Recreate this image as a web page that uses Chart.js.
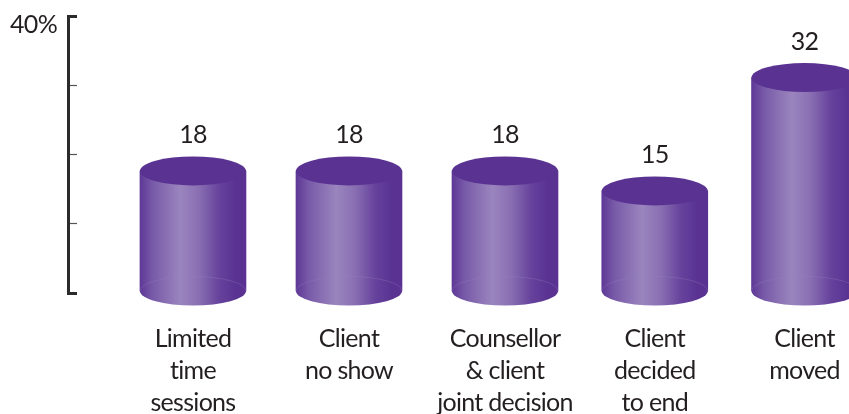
<!DOCTYPE html>
<html lang="en">
<head>
<meta charset="UTF-8">
<title>Reasons for ending counselling</title>
<script src="https://cdn.jsdelivr.net/npm/chart.js"></script>
<style>
html, body { margin: 0; padding: 0; background: #fff; overflow: hidden; }
#wrap { width: 849px; height: 414px; }
</style>
</head>
<body>
<div id="wrap"><canvas id="endChart" width="849" height="414"></canvas></div>

<script>
const categories = [
  ['Limited', 'time', 'sessions'],
  ['Client', 'no show'],
  ['Counsellor', '& client', 'joint decision'],
  ['Client', 'decided', 'to end'],
  ['Client', 'moved']
];
const percentages = [18, 18, 18, 15, 32];
const axisTicks = [0, 10, 20, 30, 40];
// slots on the x scale, the last two cylinders sit a bit closer together
const slots = [0, 1, 2, 2.96, 3.92];

const INK = '#231f20';
const FONT = 'Lato, sans-serif';
const BAR_W = 106;
const RY = 14.5;

function sideGradient(ctx, cx) {
  const g = ctx.createLinearGradient(cx - BAR_W / 2, 0, cx + BAR_W / 2, 0);
  g.addColorStop(0, '#5e3896');
  g.addColorStop(0.12, '#785aa8');
  g.addColorStop(0.38, '#9a85be');
  g.addColorStop(0.55, '#8a70b3');
  g.addColorStop(0.75, '#66429c');
  g.addColorStop(0.9, '#5a3392');
  g.addColorStop(1, '#5a3292');
  return g;
}

// caps and value labels around the library's bars
const cylinders = {
  id: 'cylinders',
  beforeDraw(chart) {
    // the original type is narrower than Lato
    chart.ctx.letterSpacing = '-0.7px';
  },
  beforeDatasetsDraw(chart) {
    const c = chart.ctx;
    chart.getDatasetMeta(0).data.forEach(bar => {
      c.save();
      c.fillStyle = sideGradient(c, bar.x);
      c.beginPath();
      c.ellipse(bar.x, bar.base, BAR_W / 2, RY, 0, 0, Math.PI * 2);
      c.fill();
      c.restore();
    });
  },
  afterDatasetsDraw(chart) {
    const c = chart.ctx;
    chart.getDatasetMeta(0).data.forEach((bar, i) => {
      c.save();
      // faint back rim of the base
      c.beginPath();
      c.ellipse(bar.x, bar.base, BAR_W / 2, RY, 0, Math.PI, Math.PI * 2);
      c.strokeStyle = 'rgba(150,130,190,0.3)';
      c.lineWidth = 1;
      c.stroke();
      c.fillStyle = '#5a3292';
      c.beginPath();
      c.ellipse(bar.x, bar.y, BAR_W / 2, RY, 0, 0, Math.PI * 2);
      c.fill();
      c.fillStyle = INK;
      c.font = '25px ' + FONT;
      c.textAlign = 'center';
      c.textBaseline = 'middle';
      c.fillText(String(percentages[i]), bar.x, bar.y - 36);
      c.restore();
    });
  }
};

new Chart(document.getElementById('endChart').getContext('2d'), {
  type: 'bar',
  data: {
    datasets: [{
      data: percentages.map((v, i) => ({ x: slots[i], y: v })),
      yAxisID: 'bars',
      barThickness: BAR_W,
      borderWidth: 0,
      backgroundColor(ctx) {
        const cx = ctx.parsed ? ctx.chart.scales.x.getPixelForValue(ctx.parsed.x) : NaN;
        return Number.isFinite(cx) ? sideGradient(ctx.chart.ctx, cx) : '#6a459e';
      }
    }]
  },
  options: {
    responsive: false,
    animation: false,
    layout: { padding: { top: 16, left: 0, right: 0, bottom: 0 } },
    plugins: { legend: { display: false }, tooltip: { enabled: false } },
    scales: {
      x: {
        type: 'linear',
        offset: false,
        min: -0.801,
        max: 4.205,
        border: { display: false },
        grid: { display: false, drawTicks: false, offset: false },
        afterBuildTicks(scale) { scale.ticks = slots.map(v => ({ value: v })); },
        afterFit(scale) {
          scale.height = 121;
          scale.paddingLeft = 0;
          scale.paddingRight = 0;
        },
        ticks: {
          autoSkip: false,
          maxRotation: 0,
          padding: 30,
          color: INK,
          font: { family: FONT, size: 25, lineHeight: 32 / 25 },
          callback(v) { return categories[slots.indexOf(v)]; }
        }
      },
      y: {
        min: 0,
        max: 40,
        afterBuildTicks(scale) { scale.ticks = axisTicks.map(v => ({ value: v })); },
        afterFit(scale) {
          scale.width = 68;
          scale.paddingTop = 0;
          scale.paddingBottom = 0;
        },
        border: { color: '#2b2b2b', width: 3 },
        grid: {
          drawOnChartArea: false,
          tickLength: -9,
          tickColor(ctx) { return ctx.tick.value % 40 === 0 ? '#2b2b2b' : '#555'; },
          tickWidth(ctx) { return ctx.tick.value % 40 === 0 ? 3 : 1.2; }
        },
        ticks: {
          padding: 20,
          labelOffset: 9,
          color: INK,
          font: { family: FONT, size: 25 },
          callback(v) { return v === 40 ? '40%' : ''; }
        }
      },
      // the drawn cylinders run a little shorter than the printed axis
      bars: { display: false, min: -0.3, max: 41.23 }
    }
  },
  plugins: [cylinders]
});
</script>
</body>
</html>
